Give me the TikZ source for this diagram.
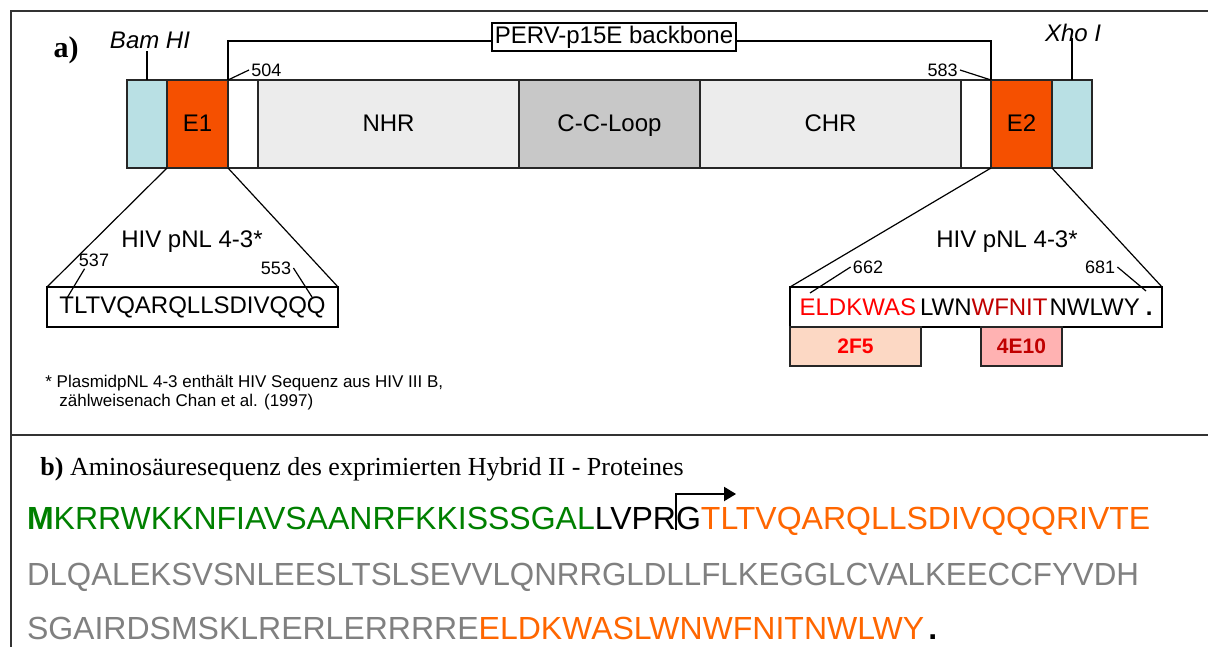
\documentclass[tikz,border=0pt]{standalone}
\usepackage{graphicx}
\usepackage{fontspec}
\setmainfont{Liberation Serif}
\setsansfont{Liberation Sans}
\usetikzlibrary{positioning,arrows.meta}
\definecolor{sitecol}{RGB}{185,224,228}
\definecolor{epicol}{RGB}{245,80,0}
\definecolor{helixcol}{RGB}{236,236,236}
\definecolor{loopcol}{RGB}{200,200,200}
\definecolor{leadgreen}{RGB}{0,128,0}
\definecolor{hivorange}{RGB}{255,102,0}
\definecolor{pervgray}{RGB}{128,128,128}
\definecolor{mabred}{RGB}{255,0,0}
\definecolor{mabdark}{RGB}{192,0,0}
\definecolor{boxpeach}{RGB}{252,216,196}
\definecolor{boxpink}{RGB}{255,178,178}
\tikzset{
  segbox/.style={rectangle,draw=black!85,line width=0.8pt,outer sep=0pt,inner sep=0pt,minimum height=44pt,text height=9pt,text depth=2pt,font=\sffamily\fontsize{12}{14}\selectfont},
  sitelbl/.style={font=\sffamily\itshape\fontsize{12}{14}\selectfont,inner sep=1pt},
  posnum/.style={font=\sffamily\fontsize{9}{10}\selectfont,inner sep=1pt},
  strainlbl/.style={font=\sffamily\fontsize{12}{14}\selectfont,inner sep=1pt},
  seqbox/.style={rectangle,draw,line width=0.8pt,minimum height=20pt,inner sep=0pt,outer sep=0pt,font=\sffamily\fontsize{12}{14}\selectfont},
  mabbox/.style={rectangle,draw=black!85,line width=0.8pt,minimum height=19.5pt,inner sep=0pt,outer sep=0pt,font=\sffamily\bfseries\fontsize{10.5}{12}\selectfont},
  aaseq/.style={font=\sffamily\fontsize{16}{18}\selectfont,inner sep=0pt,outer sep=0pt},
  thinln/.style={line width=0.6pt},
  framepen/.style={line width=0.8pt,draw=black!80},
  startarr/.style={-{Triangle[length=6pt,width=7pt]},line width=1pt}
}

\begin{document}
\begin{tikzpicture}[x=0.5pt,y=-0.5pt]
  \useasboundingbox (0,0) rectangle (1208,647);
  \draw[framepen] (1208,11) -- (11,11) -- (11,647);
  \draw[framepen] (11,435) -- (1208,435);

  % construct bar
  \node[segbox,fill=sitecol,minimum width=20pt,anchor=west] (bam) at (127,124) {};
  \node[segbox,fill=epicol,minimum width=30.5pt,right=0pt of bam] (e1) {E1};
  \node[segbox,fill=white,minimum width=15pt,right=0pt of e1] (gap1) {};
  \node[segbox,fill=helixcol,minimum width=130.5pt,right=0pt of gap1] (nhr) {NHR};
  \node[segbox,fill=loopcol,minimum width=90.5pt,right=0pt of nhr] (loop) {C-C-Loop};
  \node[segbox,fill=helixcol,minimum width=130.5pt,right=0pt of loop] (chr) {CHR};
  \node[segbox,fill=white,minimum width=15pt,right=0pt of chr] (gap2) {};
  \node[segbox,fill=epicol,minimum width=30.5pt,right=0pt of gap2] (e2) {E2};
  \node[segbox,fill=sitecol,minimum width=20pt,right=0pt of e2] (xho) {};

  \node[font=\rmfamily\bfseries\fontsize{15}{16}\selectfont] (parta) at (66,50) {a)};
  \node[sitelbl] (bamlbl) at (150,40) {Bam HI};
  \node[sitelbl] (xholbl) at (1073,33) {Xho I};
  \draw[thinln] (bam.north) -- (bam.north |- bamlbl.south);
  \draw[thinln] (xho.north) -- ++(0,-42);

  \node[rectangle,draw,line width=0.8pt,fill=white,font=\sffamily\fontsize{12}{14}\selectfont,inner sep=1.5pt] (bbone) at (614,37) {PERV-p15E backbone};
  \draw[thinln] (gap1.north west) |- ([yshift=-2pt]bbone.west);
  \draw[thinln] ([yshift=-2pt]bbone.east) -| (gap2.north east);
  \node[posnum,anchor=west] (n504) at (249,70) {504};
  \node[posnum,anchor=east] (n583) at (960,70) {583};
  \draw[thinln] (gap1.north west) -- (n504.west);
  \draw[thinln] (gap2.north east) -- (n583.east);

  % E1 insert
  \node[seqbox,minimum width=145.5pt] (seqL) at (192.5,307) {TLTVQARQLLSDIVQQQ};
  \draw[thinln] (bam.south east) -- (seqL.north west);
  \draw[thinln] (e1.south east) -- (seqL.north east);
  \node[strainlbl] (hivL) at (192,242) {HIV pNL 4-3*};
  \node[posnum] (n537) at (94,260) {537};
  \node[posnum] (n553) at (276,268) {553};
  \coordinate (t537) at (67,298);
  \coordinate (t553) at (312,297);
  \draw[thinln] ([xshift=4pt]n537.south west) -- (t537);
  \draw[thinln] (n553.east) -- (t553);

  % E2 insert
  \node[seqbox,minimum width=186pt] (seqR) at (976,307)
    {{\color{mabred}ELDKWAS}\hspace{2pt}LWN{\color{mabdark}WFNIT}\hspace{1pt}NWLWY\hspace{3pt}\textbf{.}};
  \draw[thinln] (gap2.south east) -- (seqR.north west);
  \draw[thinln] (e2.south east) -- (seqR.north east);
  \node[strainlbl] (hivR) at (1007,242) {HIV pNL 4-3*};
  \node[posnum] (n662) at (868,267) {662};
  \node[posnum] (n681) at (1100,267) {681};
  \coordinate (t662) at (810,293);
  \coordinate (t681) at (1146,291);
  \draw[thinln] (n662.west) -- (t662);
  \draw[thinln] (n681.east) -- (t681);
  \node[mabbox,fill=boxpeach,text=mabred,minimum width=65.5pt,anchor=north west] (mab2f5) at (seqR.south west) {2F5};
  \node[mabbox,fill=boxpink,text=mabdark,minimum width=40.5pt,anchor=north west] (mab4e10) at ([xshift=95.5pt]seqR.south west) {4E10};

  \node[font=\sffamily\fontsize{8.5}{9.2}\selectfont,align=left,anchor=north west,inner sep=0pt] (fnote) at (45,375)
    {* PlasmidpNL 4-3 enthält HIV Sequenz aus HIV III B,\\\hspace*{7pt}zählweisenach Chan et al. (1997)};

  % hybrid sequence
  \node[font=\rmfamily\fontsize{13}{15}\selectfont,anchor=base west,inner sep=0pt] (partb) at (40,475)
    {\textbf{b)} Aminosäuresequenz des exprimierten Hybrid II - Proteines};
  \node[aaseq,anchor=base west,text=leadgreen] (l1a) at (27,529) {\textbf{M}KRRWKKNFIAVSAANRFKKISSSGAL};
  \node[aaseq,base right=0pt of l1a] (l1b) {LVPR};
  \node[aaseq,base right=0pt of l1b] (l1c) {G};
  \node[aaseq,base right=0pt of l1c,text=hivorange] (l1d) {TLTVQARQLLSDIVQQQRIVTE};
  \draw[startarr] ([yshift=-0.5pt]l1c.base west) -- ([yshift=17.5pt]l1c.base west) -- ++(30pt,0);
  \node[aaseq,anchor=base west,text=pervgray] (l2) at (27,585)
    {\scalebox{0.978}[1]{DLQALEKSVSNLEESLTSLSEVVLQNRRGLDLLFLKEGGLCVALKEECCFYVDH}};
  \node[aaseq,anchor=base west,text=pervgray] (l3a) at (27,639) {SGAIRDSMSKLRERLERRRRE};
  \node[aaseq,base right=0pt of l3a,text=hivorange] (l3b) {ELDKWASLWNWFNITNWLWY};
  \node[aaseq,base right=2pt of l3b] (l3c) {\textbf{.}};
\end{tikzpicture}
\end{document}
